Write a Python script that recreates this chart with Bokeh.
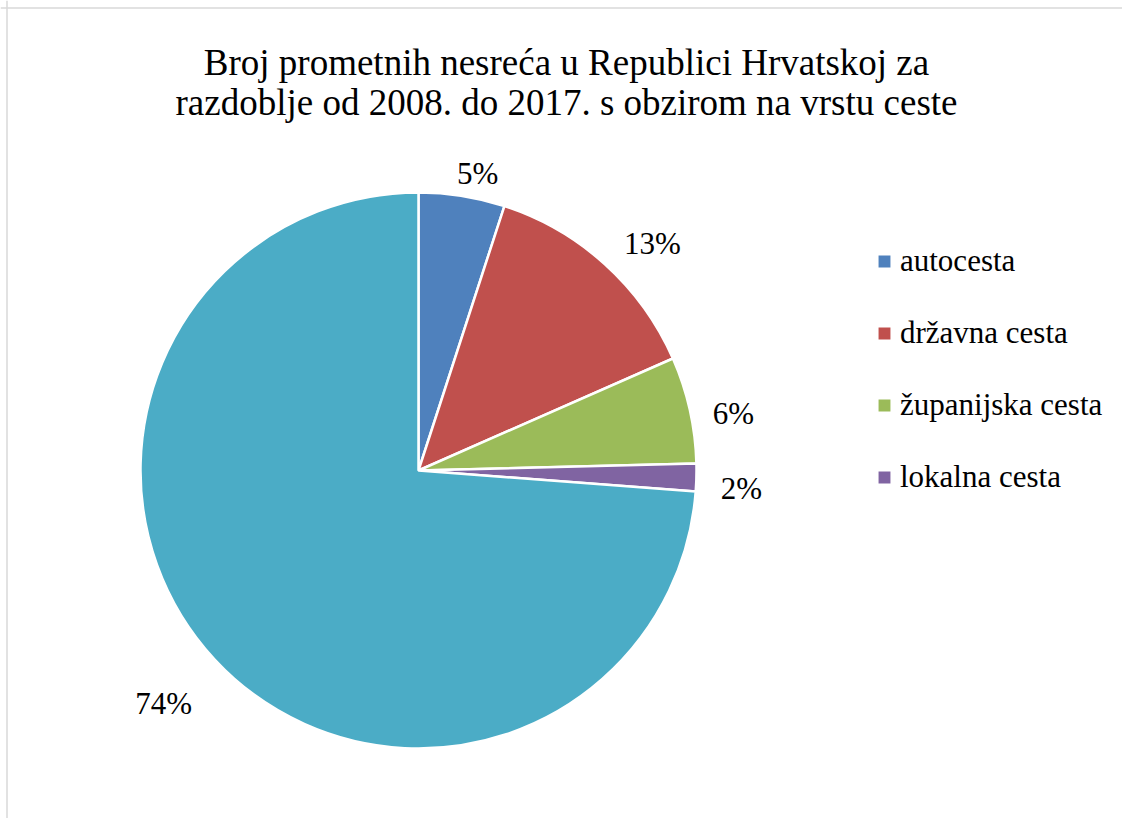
import math
from bokeh.plotting import figure
from bokeh.models import ColumnDataSource, Legend, LegendItem, Range1d, Span
from bokeh.core.properties import value
from bokeh.embed import file_html
from bokeh.resources import INLINE

# ---- data ----
categories = ["autocesta", "državna cesta", "županijska cesta", "lokalna cesta", "nerazvrstana cesta"]
shares = [5.0, 13.4, 6.2, 1.6, 73.8]
colors = ["#4F81BD", "#C0504D", "#9BBB59", "#8064A2", "#4BACC6"]
legend_count = 4
title_lines = ["Broj prometnih nesreća u Republici Hrvatskoj za",
               "razdoblje od 2008. do 2017. s obzirom na vrstu ceste"]

# ---- layout / style ----
W, H = 1122, 818
CX, CY = 418, 470          # pie centre (pixels from top-left)
R = 278
LABEL_R = [313, 333, 322, 323, 339]
LABEL_SHIFT_DEG = [1.9, 2.5, 0.6, 0.0, 1.6]
FONT = "Liberation Serif"

total = sum(shares)
starts, ends, mids = [], [], []
cum = 0.0
for v in shares:
    a0 = cum / total
    cum += v
    a1 = cum / total
    starts.append(math.pi / 2 - 2 * math.pi * a0)
    ends.append(math.pi / 2 - 2 * math.pi * a1)
    mids.append((a0 + a1) / 2)

src = ColumnDataSource(dict(cat=categories, share=shares, color=colors,
                            start=starts, end=ends))

p = figure(width=W, height=H, x_range=Range1d(0, W), y_range=Range1d(0, H),
           output_backend="svg", toolbar_location=None,
           x_axis_type=None, y_axis_type=None, min_border=0,
           outline_line_color=None, background_fill_color="white",
           border_fill_color="white")
p.xgrid.visible = False
p.ygrid.visible = False

# chart-area border (left and top edges visible)
p.add_layout(Span(location=6.5, dimension="height", line_color="#D9D9D9", line_width=1.5))
p.add_layout(Span(location=H - 7.5, dimension="width", line_color="#D9D9D9", line_width=1.5))

wr = p.wedge(x=CX, y=H - CY, radius=R, start_angle="start", end_angle="end",
             direction="clock", fill_color="color", line_color="white",
             line_width=2.5, source=src)

# data labels
lx, ly, lt = [], [], []
for i, v in enumerate(shares):
    ang = 2 * math.pi * mids[i] + math.radians(LABEL_SHIFT_DEG[i])
    px = CX + LABEL_R[i] * math.sin(ang)
    py = CY - LABEL_R[i] * math.cos(ang)
    lx.append(px)
    ly.append(H - (py + 10))
    lt.append(f"{round(v / total * 100)}%")
p.text(x=lx, y=ly, text=lt, text_font=value(FONT), text_font_size="31px",
       text_color="#000000", text_align="center", text_baseline="alphabetic")

# title
p.text(x=[566, 566], y=[H - 62, H - 102], text=title_lines, text_font=value(FONT),
       text_font_size="37px", text_color="#000000", text_align="center",
       text_baseline="alphabetic")

items = [LegendItem(label=categories[i], renderers=[wr], index=i) for i in range(legend_count)]
legend = Legend(items=items, location=(875, 323), orientation="vertical",
                label_text_font=FONT, label_text_font_size="31px",
                label_text_color="#000000", glyph_width=18, glyph_height=18,
                label_height=36, spacing=36, label_standoff=7, padding=0,
                margin=0, border_line_color=None, background_fill_alpha=0)
p.add_layout(legend)

open("out.html", "w").write(file_html(p, INLINE))
